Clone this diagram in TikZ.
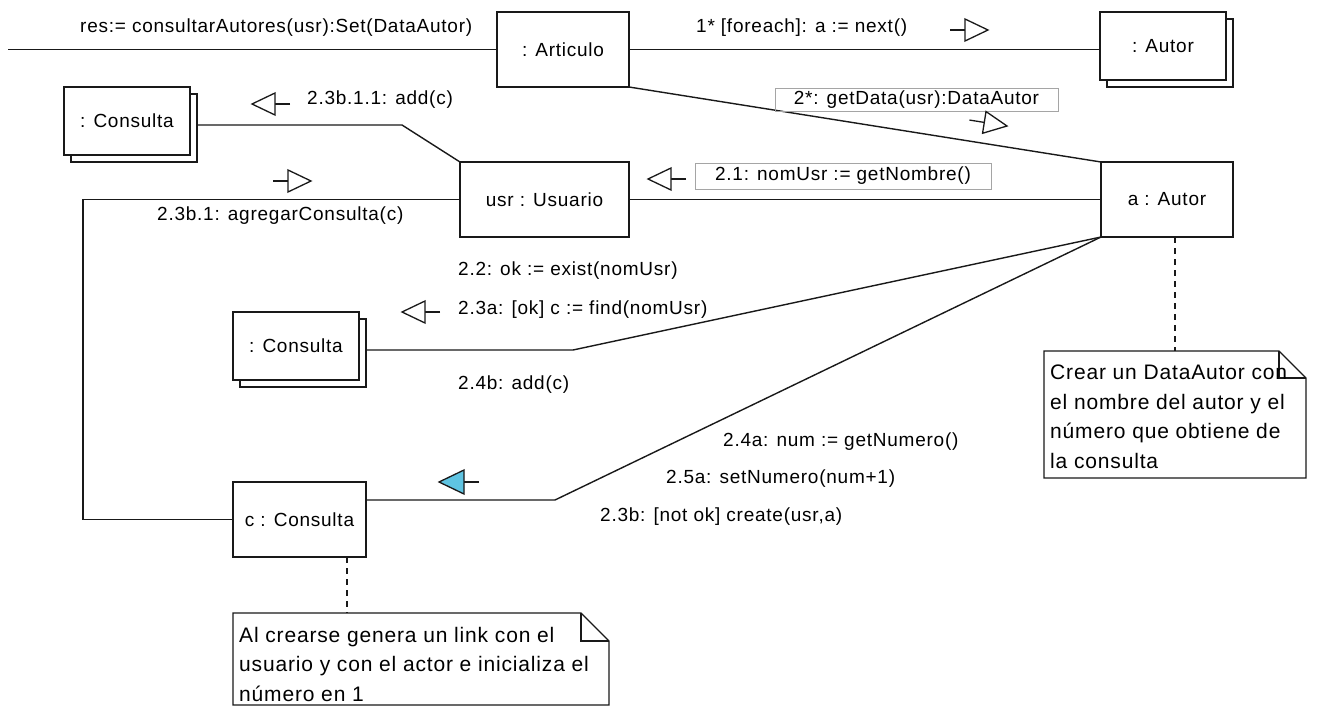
\documentclass[tikz,border=0pt]{standalone}
\usepackage{fontspec}
\setmainfont{Liberation Sans}[LetterSpace=4]
\usetikzlibrary{shadows,calc}
\definecolor{ink}{RGB}{25,25,25}
\definecolor{msgblue}{RGB}{95,196,226}
\definecolor{framegray}{RGB}{165,165,165}

\tikzset{
  obj/.style={draw=ink, fill=white, line width=1.4pt, inner sep=0pt, outer sep=0pt,
    minimum width=132pt, minimum height=75pt, font=\fontsize{19}{23}\selectfont},
  stackobj/.style={obj, minimum width=126pt, minimum height=68pt,
    copy shadow={shadow xshift=7pt, shadow yshift=-7pt, draw=ink, fill=white, line width=1.4pt}},
  msg/.style={anchor=west, inner sep=0pt, font=\fontsize{19}{23}\selectfont},
  framedmsg/.style={draw=framegray, line width=1pt, inner sep=0pt, font=\fontsize{19}{23}\selectfont},
  notearea/.style={inner sep=0pt, outer sep=0pt},
  notetext/.style={anchor=north west, inner sep=0pt, align=left, font=\fontsize{21}{29.5}\selectfont},
  link/.style={draw=ink, line width=1.4pt},
  anchorline/.style={draw=ink, line width=1.3pt, dash pattern=on 6pt off 5pt},
  msgright/.pic={
    \draw[ink, line width=1.3pt] (-38,0) -- (-23,0);
    \draw[ink, line width=1.3pt, fill=white, line join=miter] (-23,-11) -- (0,0) -- (-23,11) -- cycle;},
  msgleft/.pic={
    \draw[ink, line width=1.3pt] (38,0) -- (23,0);
    \draw[ink, line width=1.3pt, fill=white, line join=miter] (23,-11) -- (0,0) -- (23,11) -- cycle;},
  msgleftfilled/.pic={
    \draw[ink, line width=1.3pt] (40,0) -- (25,0);
    \draw[ink, line width=1.3pt, fill=msgblue, line join=miter] (25,-12) -- (0,0) -- (25,12) -- cycle;},
}

\begin{document}
\begin{tikzpicture}[x=1pt, y=-1pt]
\fill[white] (0,0) rectangle (1318,707);
\useasboundingbox (0,0) rectangle (1318,707);

% objects
\node[obj] (art) at (563,49.5) {: Articulo};
\node[stackobj] (autor) at (1163,46) {: Autor};
\node[obj, minimum width=169pt] (usr) at (544.5,199.5) {usr : Usuario};
\node[obj] (aautor) at (1167,199.5) {a : Autor};
\node[stackobj] (cons1) at (127,121) {: Consulta};
\node[stackobj] (cons2) at (296,346) {: Consulta};
\node[obj, minimum width=133pt] (cc) at (299.5,519.5) {c : Consulta};

% notes
\node[notearea, minimum width=262pt, minimum height=127pt] (note1) at (1175,414.5) {};
\draw[link, fill=white] (note1.north west) -- ($(note1.north east)+(-27,0)$) -- ($(note1.north east)+(0,27)$)
  -- (note1.south east) -- (note1.south west) -- cycle;
\draw[link] ($(note1.north east)+(-27,0)$) |- ($(note1.north east)+(0,27)$);
\node[notetext] (note1txt) at (1050,365) {Crear un DataAutor con\\el nombre del autor y el\\número que obtiene de\\la consulta};

\node[notearea, minimum width=376pt, minimum height=92pt] (note2) at (421,659) {};
\draw[link, fill=white] (note2.north west) -- ($(note2.north east)+(-28,0)$) -- ($(note2.north east)+(0,28)$)
  -- (note2.south east) -- (note2.south west) -- cycle;
\draw[link] ($(note2.north east)+(-28,0)$) |- ($(note2.north east)+(0,28)$);
\node[notetext] (note2txt) at (239,627) {Al crearse genera un link con el\\usuario y con el actor e inicializa el\\número en 1};

% links
\coordinate (caller) at (8,49.5);
\draw[link] (caller) -- (art.west);
\draw[link] (art.east) -- (art.east -| autor.west);
\draw[link] (art.south east) -- (aautor.north west);
\draw[link] (usr.east) -- (aautor.west);
\draw[link] ($(cons1.east)+(7,4)$) -- (402,125) -- (usr.north west);
\draw[link] (usr.west) -| (83,519.5) -- (cc.west);
\draw[link] ($(cons2.east)+(7,4)$) -- (573,350) -- (aautor.south west);
\draw[link] ($(cc.east)+(0,-19.5)$) -- (555,500) -- (aautor.south west);

% note anchors
\draw[anchorline] (note1.north |- aautor.south) -- (note1.north);
\coordinate (cdash) at ($(cc.south)+(47.5,0)$);
\draw[anchorline] (cdash) -- (cdash |- note2.north);

% messages
\node[msg] (m0) at (80,28) {res:= consultarAutores(usr):Set(DataAutor)};
\node[msg] (m1) at (696,28) {1* [foreach]: a := next()};
\pic at (988,30) {msgright};
\node[framedmsg, minimum width=283pt, minimum height=23pt] (m2) at (916.5,99.5) {2*: getData(usr):DataAutor};
\pic[rotate=-9] at (1007,126) {msgright};
\node[framedmsg, minimum width=296pt, minimum height=26pt] (m21) at (843,176) {2.1: nomUsr := getNombre()};
\pic at (648,179) {msgleft};
\node[msg] (m2311) at (307,100) {2.3b.1.1: add(c)};
\pic at (252,104) {msgleft};
\node[msg] (m231) at (157,216) {2.3b.1: agregarConsulta(c)};
\pic at (311,181) {msgright};
\node[msg] (m22) at (458,271) {2.2: ok := exist(nomUsr)};
\node[msg] (m23a) at (458,310) {2.3a: [ok] c := find(nomUsr)};
\pic at (402,312) {msgleft};
\node[msg] (m24b) at (458,385) {2.4b: add(c)};
\node[msg] (m24a) at (723,442) {2.4a: num := getNumero()};
\node[msg] (m25a) at (666,479) {2.5a: setNumero(num+1)};
\node[msg] (m23b) at (600,517) {2.3b: [not ok] create(usr,a)};
\pic at (439,482) {msgleftfilled};
\end{tikzpicture}
\end{document}
